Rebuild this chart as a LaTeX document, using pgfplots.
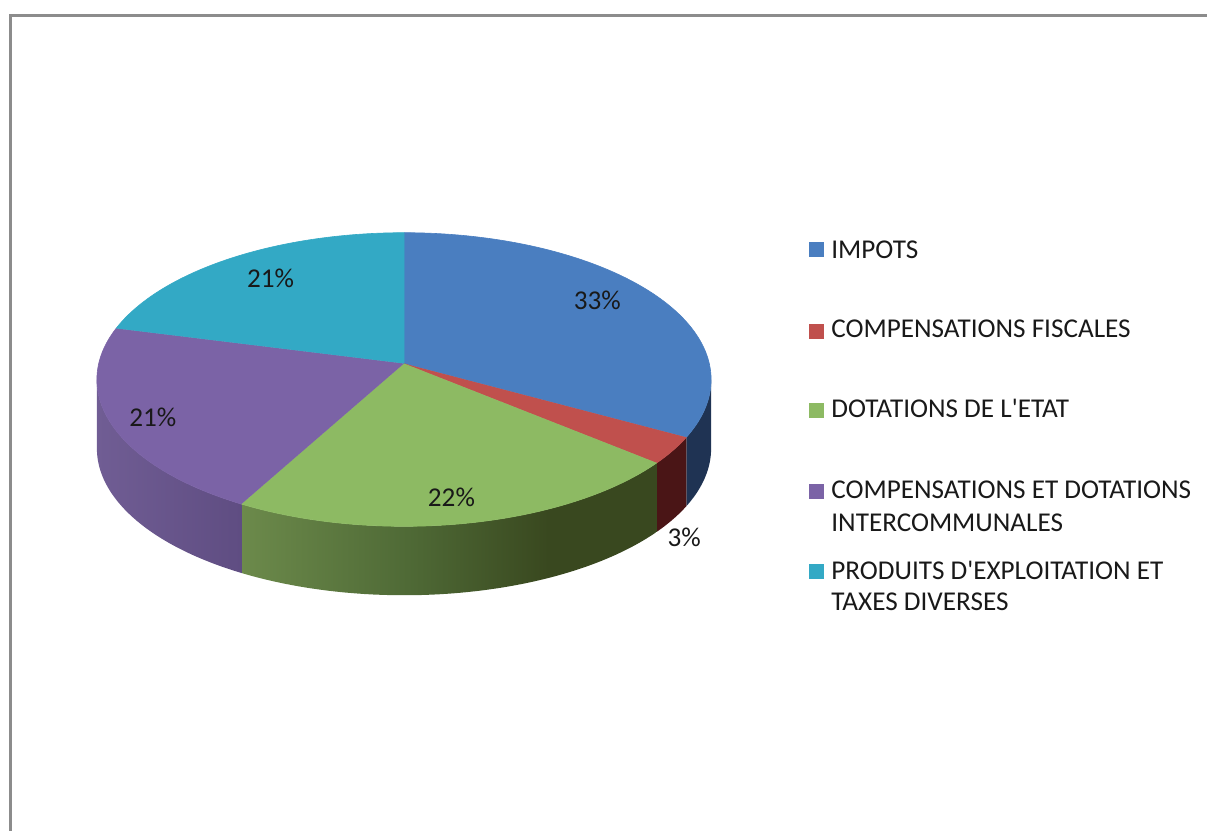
\documentclass[border=0pt]{standalone}
\usepackage{pgfplots}
\pgfplotsset{compat=1.18}
\usepackage{pgfplotstable}
\usepackage{fontspec}
\setmainfont{Carlito}[Ligatures=TeXOff]

% slice colours (top faces / legend)
\definecolor{cImp}{HTML}{4A7EC0}
\definecolor{cFis}{HTML}{C0504D}
\definecolor{cDot}{HTML}{8DBA63}
\definecolor{cInt}{HTML}{7B63A6}
\definecolor{cPro}{HTML}{33A9C5}
% side colours
\definecolor{sImp}{HTML}{1F3353}
\definecolor{sFis}{HTML}{4A1516}
\definecolor{gsL}{HTML}{6C8A4B}
\definecolor{gsM}{HTML}{4F6A36}
\definecolor{gsD}{HTML}{39481F}
\definecolor{psL}{HTML}{705D94}
\definecolor{psD}{HTML}{5F4D82}
\definecolor{frame}{HTML}{8C8C8C}

\pgfdeclarehorizontalshading{greenside}{100bp}{color(0bp)=(gsL); color(25bp)=(gsL); color(45bp)=(gsM); color(62bp)=(gsD); color(100bp)=(gsD)}
\pgfdeclarehorizontalshading{purpleside}{100bp}{color(0bp)=(psL); color(25bp)=(psL); color(75bp)=(psD); color(100bp)=(psD)}

% shares in percent, clockwise from 12 o'clock
\pgfplotstableread{
id value
1 33
2 3
3 22
4 21
5 21
}\pietable

% geometry of the tilted disc (pixel units, y upwards)
\def\cx{404.5}
\def\cy{452}
\def\rx{307.5}
\def\ry{147}
\def\T{0.109}      % perspective shift of the centre
\def\S{0.99404}    % sqrt(1-T^2)
\def\dep{69}       % thickness of the disc
\newcommand\PX[1]{\cx+\rx*\S*cos(#1)/(1+\T*sin(#1))}
\newcommand\PY[1]{\cy+\ry*(sin(#1)+\T)/(1+\T*sin(#1))}

% top face of a slice: colour, start angle, end angle
\newcommand\topslice[3]{%
  \addplot[fill=#1, draw=#1, line width=0.3pt, samples at={0,1,...,100,101}, variable=\u]
    ({\u<100.5 ? \PX{(#2)+((#3)-(#2))*\u/100} : \cx},
     {\u<100.5 ? \PY{(#2)+((#3)-(#2))*\u/100} : \cy+\ry*\T});
}
% visible side of a slice: fill options, start angle, end angle
\newcommand\sideslice[3]{%
  \addplot[#1, draw=none, samples at={0,1,...,50,100,101,...,150}, variable=\u]
    ({\u<75 ? \PX{(#2)+((#3)-(#2))*\u/50} : \PX{(#3)+((#2)-(#3))*(\u-100)/50}},
     {\u<75 ? \PY{(#2)+((#3)-(#2))*\u/50} : \PY{(#3)+((#2)-(#3))*(\u-100)/50}-\dep});
}

\begin{document}
\begin{tikzpicture}
\pgfplotstablegetelem{0}{value}\of\pietable \let\vA\pgfplotsretval
\pgfplotstablegetelem{1}{value}\of\pietable \let\vB\pgfplotsretval
\pgfplotstablegetelem{2}{value}\of\pietable \let\vC\pgfplotsretval
\pgfplotstablegetelem{3}{value}\of\pietable \let\vD\pgfplotsretval
\pgfplotstablegetelem{4}{value}\of\pietable \let\vE\pgfplotsretval
\pgfmathsetmacro{\aA}{90}
\pgfmathsetmacro{\aB}{\aA-3.6*\vA}
\pgfmathsetmacro{\aC}{\aB-3.6*\vB}
\pgfmathsetmacro{\aD}{\aC-3.6*\vC}
\pgfmathsetmacro{\aE}{\aD-3.6*\vD}
\pgfmathsetmacro{\aF}{\aE-3.6*\vE}
\pgfmathsetmacro{\visR}{-asin(\T)}
\pgfmathsetmacro{\visL}{-180+asin(\T)}

\begin{axis}[
  scale only axis,
  width=604pt, height=416pt,
  xmin=0, xmax=1208, ymin=0, ymax=832,
  hide axis, clip=false,
  font=\fontsize{13.6}{16}\selectfont,
]
\addplot[draw=none, forget plot] coordinates {(0,0) (1208,832)};
% chart frame (only top and left edges are in view)
\addplot[draw=frame, line width=1.5pt] coordinates {(10.5,0) (10.5,816.5) (1208,816.5)};

% sides
\sideslice{fill=sImp}{\visR}{\aB}
\sideslice{fill=sFis}{\aB}{\aC}
\sideslice{shade, shading=greenside}{\aC}{\aD}
\sideslice{shade, shading=purpleside}{\aD}{\visL}

% top faces
\topslice{cImp}{\aA}{\aB}
\topslice{cFis}{\aB}{\aC}
\topslice{cDot}{\aC}{\aD}
\topslice{cInt}{\aD}{\aE}
\topslice{cPro}{\aE}{\aF}

% data labels
\node[anchor=base, text=black!90] at (axis cs:598,522) {33\%};
\node[anchor=base, text=black!90] at (axis cs:685,285) {3\%};
\node[anchor=base, text=black!90] at (axis cs:452,325) {22\%};
\node[anchor=base, text=black!90] at (axis cs:153,405) {21\%};
\node[anchor=base, text=black!90] at (axis cs:271,544) {21\%};

% legend
\addplot[only marks, mark=square*, mark size=3.5pt, color=cImp, mark options={line width=0pt}] coordinates {(817.5,582)};
\addplot[only marks, mark=square*, mark size=3.5pt, color=cFis, mark options={line width=0pt}] coordinates {(817.5,500.5)};
\addplot[only marks, mark=square*, mark size=3.5pt, color=cDot, mark options={line width=0pt}] coordinates {(817.5,421)};
\addplot[only marks, mark=square*, mark size=3.5pt, color=cInt, mark options={line width=0pt}] coordinates {(817.5,340)};
\addplot[only marks, mark=square*, mark size=3.5pt, color=cPro, mark options={line width=0pt}] coordinates {(817.5,260)};
\node[anchor=base west, inner sep=0pt, text=black!90] at (axis cs:832,572.7) {IMPOTS};
\node[anchor=base west, inner sep=0pt, text=black!90] at (axis cs:832,493.7) {COMPENSATIONS FISCALES};
\node[anchor=base west, inner sep=0pt, text=black!90] at (axis cs:832,413.7) {DOTATIONS DE L'ETAT};
\node[anchor=base west, inner sep=0pt, text=black!90] at (axis cs:832,332.7) {COMPENSATIONS ET DOTATIONS};
\node[anchor=base west, inner sep=0pt, text=black!90] at (axis cs:832,300.3) {INTERCOMMUNALES};
\node[anchor=base west, inner sep=0pt, text=black!90] at (axis cs:832,252) {PRODUITS D'EXPLOITATION ET};
\node[anchor=base west, inner sep=0pt, text=black!90] at (axis cs:832,220.3) {TAXES DIVERSES};
\end{axis}
\end{tikzpicture}
\end{document}
